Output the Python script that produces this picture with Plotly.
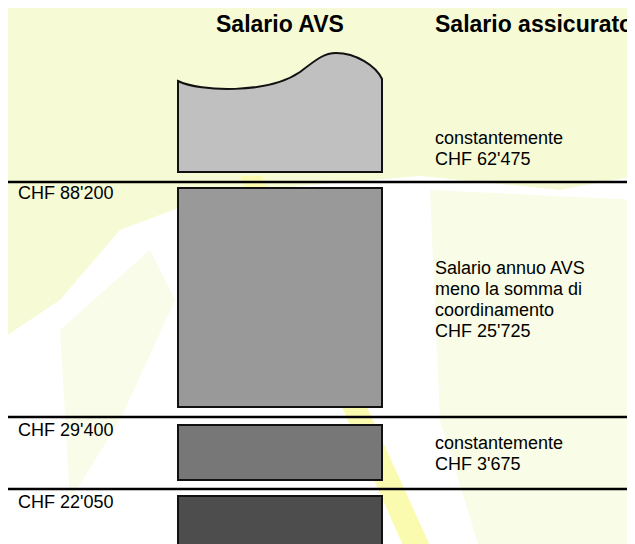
import plotly.graph_objects as go

# ---- data ----
column_titles = ["Salario AVS", "Salario assicurato"]
threshold_labels = ["CHF 88'200", "CHF 29'400", "CHF 22'050"]
segment_lines = [
    ["constantemente", "CHF 62'475"],
    ["Salario annuo AVS", "meno la somma di", "coordinamento", "CHF 25'725"],
    ["constantemente", "CHF 3'675"],
    [],
]
segment_fills = ["#c0c0c0", "#999999", "#777777", "#4d4d4d"]

# ---- layout constants (page-pixel space; body has an 8px margin) ----
PAGE_W, PAGE_H, OFF = 635, 544, 8
BOX_L, BOX_R = 178, 382
sep_y = [182, 417, 489]
box_tops = [None, 188, 425, 496]
box_bots = [172, 407, 480, 560]
text_first_y = [138, 268, 443, None]
LINE_STEP = 21
label_y = [193, 430, 502]
TEXT_X = 433
LABEL_X = 16

fig = go.Figure()
fig.add_trace(go.Scatter(x=[OFF, PAGE_W], y=[OFF, PAGE_H], mode="markers",
                         marker=dict(opacity=0), hoverinfo="skip", showlegend=False))

shapes = []
# faint leaf-like background
shapes.append(dict(type="path", path="M0,0 L640,0 L640,175 L560,190 L420,176 L300,186 L200,200 L120,230 L60,300 L0,340 Z",
                   fillcolor="#f6fbd6", line=dict(width=0), layer="below"))
shapes.append(dict(type="path", path="M430,190 L640,200 L640,550 L480,550 L440,420 Z",
                   fillcolor="#f9fce6", line=dict(width=0), layer="below"))
shapes.append(dict(type="path", path="M240,176 L262,176 L432,550 L405,550 Z",
                   fillcolor="#fbfbb0", line=dict(width=0), layer="below"))
shapes.append(dict(type="path", path="M60,330 L150,250 L175,300 L120,420 L70,500 Z",
                   fillcolor="#f9fce8", line=dict(width=0), layer="below"))

# top wavy box
wave = (f"M{BOX_L},81 C200,92 268,94 300,72 C318,58 325,53 336,53 "
        f"C356,53 376,66 {BOX_R},79 L{BOX_R},{box_bots[0]} L{BOX_L},{box_bots[0]} Z")
shapes.append(dict(type="path", path=wave, fillcolor=segment_fills[0],
                   line=dict(color="#111111", width=2)))
for i in range(1, 4):
    shapes.append(dict(type="rect", x0=BOX_L, x1=BOX_R, y0=box_tops[i], y1=box_bots[i],
                       fillcolor=segment_fills[i], line=dict(color="#111111", width=2)))
for y in sep_y:
    shapes.append(dict(type="line", x0=0, x1=650, y0=y, y1=y, line=dict(color="black", width=2.5)))

ann = []
ann.append(dict(x=(BOX_L + BOX_R) / 2, y=24, text=f"<b>{column_titles[0]}</b>", showarrow=False,
                xanchor="center", yanchor="middle", font=dict(size=23, color="black")))
ann.append(dict(x=TEXT_X, y=24, text=f"<b>{column_titles[1]}</b>", showarrow=False,
                xanchor="left", yanchor="middle", font=dict(size=23, color="black")))
for lab, y in zip(threshold_labels, label_y):
    ann.append(dict(x=LABEL_X, y=y, text=lab, showarrow=False, xanchor="left", yanchor="middle",
                    font=dict(size=18, color="black")))
for lines, y0 in zip(segment_lines, text_first_y):
    for k, t in enumerate(lines):
        ann.append(dict(x=TEXT_X, y=y0 + k * LINE_STEP, text=t, showarrow=False,
                        xanchor="left", yanchor="middle", align="left",
                        font=dict(size=18, color="black")))

fig.update_layout(
    width=PAGE_W - OFF, height=PAGE_H - OFF, margin=dict(l=0, r=0, t=0, b=0),
    paper_bgcolor="white", plot_bgcolor="white",
    xaxis=dict(range=[OFF, PAGE_W], visible=False, fixedrange=True),
    yaxis=dict(range=[PAGE_H, OFF], visible=False, fixedrange=True),
    shapes=shapes, annotations=ann, showlegend=False,
    font=dict(family="Liberation Sans, Arial, sans-serif"),
)
fig.write_html("out.html")
